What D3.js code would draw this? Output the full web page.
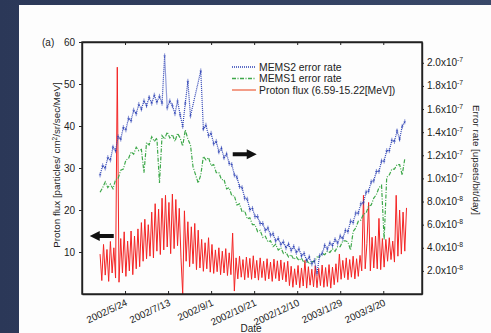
<!DOCTYPE html>
<html>
<head>
<meta charset="utf-8">
<script src="https://cdn.jsdelivr.net/npm/d3@7"></script>
<style>
  body { margin: 0; background: #2e3c5c; }
  svg { display: block; font-family: "Liberation Sans", Arial, sans-serif; }
</style>
</head>
<body>
<svg width="491" height="333"></svg>
<script>
// error rates are in units of 1e-8 upsets/bit/day, one value every 3 days from 2002/4/25
const memsStart = new Date(2002, 3, 25)
const memsStep = 3
const mems2 = [
  10.3, 11.1, 10.9, 11.8, 11.6, 12.7, 12.4, 13.6, 13.4, 14.4,
  14.2, 15.2, 15.0, 15.9, 15.6, 16.4, 16.0, 16.7, 16.3, 17.0,
  16.5, 17.2, 16.6, 17.1, 16.5, 20.6, 16.1, 16.7, 16.3, 15.6,
  16.7, 15.5, 14.5, 16.5, 18.4, 15.4, null, null, null, 19.3,
  14.3, 14.6, 13.7, 13.9, 13.0, 13.2, 12.3, 12.6, 11.8, 12.1,
  11.3, 11.2, 10.3, 10.1, 9.3, 9.2, 8.3, 8.2, 7.3, 7.4,
  6.7, 6.7, 6.1, 6.1, 5.5, 5.7, 5.1, 5.2, 4.6, 4.8,
  4.3, 4.5, 4.0, 4.3, 3.8, 4.1, 3.6, 3.9, 3.3, 3.5,
  2.9, 3.2, 2.6, 2.9, 1.8, 3.3, 3.5, 4.2, 3.9, 4.4,
  4.2, 4.7, 4.4, 5.0, 4.8, 5.5, 5.4, 6.3, 6.2, 7.0,
  7.0, 7.8, 7.9, 8.8, 8.9, 9.7, 9.8, 10.6, 10.6, 11.5,
  11.5, 12.4, 12.4, 13.3, 13.2, 14.1, 13.4, 14.5, 14.9
]
const mems1 = [
  8.8, 9.2, 9.7, 9.2, 9.5, 9.1, 9.9, 10.0, 10.7, 10.8,
  11.6, 11.7, 12.3, 12.1, 12.7, 12.4, 12.5, 10.5, 13.1, 12.9,
  13.6, 13.2, 13.5, 9.6, 13.7, 13.4, 14.0, 13.5, 13.8, 13.2,
  13.9, 13.5, 12.8, 14.2, 13.4, 12.9, 11.0, 10.3, 9.6, 10.3,
  11.9, 11.6, 11.8, 11.1, 11.2, 10.5, 10.5, 9.9, 9.9, 9.1,
  9.2, 8.5, 8.5, 7.7, 7.8, 7.1, 7.2, 6.5, 6.6, 6.0,
  6.0, 5.4, 5.5, 4.9, 5.0, 4.5, 4.6, 4.1, 4.3, 3.8,
  4.0, 3.5, 3.6, 3.2, 3.4, 3.0, 3.2, 2.9, 3.1, 2.7,
  2.9, 2.6, 2.8, 2.8, 3.2, 3.2, 3.5, 3.4, 3.7, 3.6,
  3.9, 3.7, 4.1, 4.1, 4.6, 4.6, 4.5, 3.8, 5.4, 5.7,
  6.3, 6.4, 6.9, 7.0, 7.6, 7.7, 8.3, 8.6, 9.2, 9.4,
  4.7, 10.1, 10.3, 10.8, 10.8, 11.2, 11.2, 10.3, 11.7
]

// proton flux, one value every 2 days from 2002/4/25
const protonStart = new Date(2002, 3, 25)
const protonStep = 2
const proton = [
  9.5, 3.2, 11.8, 4.5, 10.6, 3.0, 12.5, 5.0, 11.0, 3.8,
  54.0,
  2.8, 13.2, 5.0, 14.8, 4.2, 12.6, 5.5, 15.0, 4.6, 13.8, 6.0, 15.5,
  6.5, 17.0, 7.8, 17.8, 8.4, 16.5,
  9.0, 19.5, 8.6, 21.5, 10.2, 20.2, 9.4,
  22.8, 10.5, 23.5, 11.2, 21.8, 9.6, 23.8, 10.8, 22.5, 11.5,
  20.4, 8.6, 0.0, 19.8,
  7.8, 17.2, 6.5, 16.0, 7.2, 16.8, 5.8, 15.2,
  6.2, 13.0, 5.4, 12.2, 6.0, 13.4, 5.2, 11.8,
  4.9, 10.5, 5.3, 11.0, 4.6, 10.2, 5.0, 10.8, 4.4,
  9.8, 4.6, 14.5, 0.7,
  8.6, 3.6, 9.0, 4.0, 8.2, 3.4, 8.8, 3.9, 8.5, 3.5, 9.1,
  3.8, 8.0, 3.3, 8.6, 3.9, 7.8, 3.2, 8.4, 3.6, 7.6,
  3.0, 8.3, 3.7, 7.9, 3.1, 8.1, 3.4, 7.5, 2.9, 7.8,
  2.0, 6.6, 1.6, 6.0, 2.2, 6.8, 1.5, 6.2, 1.9, 8.0,
  1.4, 6.5, 2.1, 5.9, 1.7, 6.7, 1.5, 6.1, 2.0, 6.9,
  1.6, 6.3, 1.8, 7.0, 1.4, 6.4, 2.2, 7.2,
  2.8, 9.5, 3.5, 8.0, 3.9, 8.6, 3.4, 8.2, 4.0, 9.0, 3.6, 8.4, 4.2, 9.2,
  5.5, 23.5, 6.0, 12.0, 21.8, 5.5,
  13.5, 6.2, 13.8, 6.0, 18.0, 5.8, 13.2, 6.4,
  13.0, 7.8, 13.4, 8.2, 12.6, 7.6,
  23.5, 9.0,
  20.0, 9.5, 19.5, 10.2, 20.5
]

const dateTicks = ['2002/5/24', '2002/7/13', '2002/9/1', '2002/10/21', '2002/12/10', '2003/1/29', '2003/3/20']
const leftTicks = [10, 20, 30, 40, 50, 60]
const rightTicks = [2, 4, 6, 8, 10, 12, 14, 16, 18, 20] // x1e-8
const legendLabels = ['MEMS2 error rate', 'MEMS1 error rate', 'Proton flux (6.59-15.22[MeV])']

const svg = d3.select('svg')
const parse = d3.timeParse('%Y/%m/%d')

// slide background
const grad = svg.append('defs').append('linearGradient')
  .attr('id', 'bg').attr('x1', 0).attr('y1', 0).attr('x2', 1).attr('y2', 0)
grad.append('stop').attr('offset', '0%').attr('stop-color', '#2b3858')
grad.append('stop').attr('offset', '100%').attr('stop-color', '#394869')
svg.append('rect').attr('width', 491).attr('height', 333).attr('fill', 'url(#bg)')
svg.append('rect').attr('x', 19).attr('y', 5).attr('width', 472).attr('height', 328).attr('fill', '#fdfdfd')

const x = d3.scaleTime()
  .domain([new Date(2002, 3, 4), new Date(2003, 4, 4)])
  .range([82, 422])
const yL = d3.scaleLinear().domain([0, 60]).range([294, 42])
const yR = d3.scaleLinear().domain([0, 21.8]).range([294, 42])

const ink = '#222'
const blue = '#2a3fb4'
const green = '#3ea84a'

// series
const memsRows = (arr) => arr
  .map((v, i) => ({ date: d3.timeDay.offset(memsStart, i * memsStep), v: v }))
  .filter(d => d.v != null)
const protonRows = proton.map((v, i) => ({ date: d3.timeDay.offset(protonStart, i * protonStep), v: v }))

const lineR = d3.line().x(d => x(d.date)).y(d => yR(d.v))
const lineL = d3.line().x(d => x(d.date)).y(d => yL(d.v))

svg.append('path')
  .attr('d', lineL(protonRows))
  .attr('fill', 'none')
  .attr('stroke', '#f42424')
  .attr('stroke-width', 1)

svg.append('path')
  .attr('d', lineR(memsRows(mems1)))
  .attr('fill', 'none')
  .attr('stroke', green)
  .attr('stroke-width', 1.2)
  .attr('stroke-dasharray', '4,1.5,1,1.5')

svg.append('path')
  .attr('d', lineR(memsRows(mems2)))
  .attr('fill', 'none')
  .attr('stroke', blue)
  .attr('stroke-width', 1.2)
  .attr('stroke-dasharray', '1,1')

// the MEMS2 trace carries small + markers
svg.append('g').selectAll('path')
  .data(memsRows(mems2))
  .join('path')
  .attr('transform', d => `translate(${x(d.date)},${yR(d.v)})`)
  .attr('d', 'M0,-2.5V2.5M-1.2,0H1.2')
  .attr('stroke', blue)
  .attr('stroke-width', 0.7)
  .attr('opacity', 0.8)

// axes + frame
const tickDates = dateTicks.map(parse)

svg.append('g').attr('transform', 'translate(0,294)')
  .call(d3.axisBottom(x).tickValues(tickDates).tickFormat('').tickSizeInner(-3).tickSizeOuter(0))
svg.append('g').attr('transform', 'translate(0,42)')
  .call(d3.axisTop(x).tickValues(tickDates).tickFormat('').tickSizeInner(-3).tickSizeOuter(0))
svg.append('g').attr('transform', 'translate(82,0)')
  .call(d3.axisLeft(yL).tickValues(leftTicks).tickFormat(d3.format('d')).tickSize(3).tickPadding(4).tickSizeOuter(0))
svg.append('g').attr('transform', 'translate(422,0)')
  .call(d3.axisRight(yR).tickValues(rightTicks).tickFormat('').tickSize(2).tickSizeOuter(0))

svg.selectAll('.domain').attr('stroke', ink).attr('stroke-width', 1.4)
svg.selectAll('.tick line').attr('stroke', ink)
svg.selectAll('.tick text').attr('fill', ink).style('font-size', '10px')

svg.append('rect')
  .attr('x', 82).attr('y', 42).attr('width', 340).attr('height', 252)
  .attr('fill', 'none').attr('stroke', ink).attr('stroke-width', 1.4)

// date labels, slanted
svg.append('g').selectAll('text')
  .data(tickDates)
  .join('text')
  .attr('transform', d => `translate(${x(d) + 3},305) rotate(-25)`)
  .attr('text-anchor', 'end')
  .attr('fill', ink)
  .style('font-size', '9.8px')
  .text((d, i) => dateTicks[i])

// right labels: a.bx10^-n
const rl = svg.append('g').selectAll('text')
  .data(rightTicks)
  .join('text')
  .attr('x', 427)
  .attr('y', d => yR(d) + 3.5)
  .attr('fill', ink)
  .style('font-size', '10px')
rl.append('tspan').text(d => (d >= 10 ? d / 10 : d).toFixed(1) + 'x10')
rl.append('tspan').attr('dy', -4).style('font-size', '6.8px').text(d => d >= 10 ? '-7' : '-8')

// axis titles
const yTitle = svg.append('text')
  .attr('transform', 'translate(60,165) rotate(-90)')
  .attr('text-anchor', 'middle').attr('fill', ink).style('font-size', '9.8px')
yTitle.append('tspan').text('Proton flux [particles/ cm')
yTitle.append('tspan').attr('dy', -3.5).style('font-size', '6.5px').text('2')
yTitle.append('tspan').attr('dy', 3.5).text('/sr/sec/MeV]')

svg.append('text')
  .attr('transform', 'translate(473,160) rotate(90)')
  .attr('text-anchor', 'middle').attr('fill', ink).style('font-size', '9.8px')
  .text('Error rate [upsets/bit/day]')
svg.append('text')
  .attr('x', 251).attr('y', 332)
  .attr('text-anchor', 'middle').attr('fill', ink).style('font-size', '10px')
  .text('Date')
svg.append('text')
  .attr('x', 42).attr('y', 46)
  .attr('fill', ink).style('font-size', '10px')
  .text('(a)')

// legend
const legendStyles = [
  { stroke: blue, dash: '1,1' },
  { stroke: green, dash: '4,1.5,1,1.5' },
  { stroke: '#ee6a4a', dash: null }
]
const lg = svg.append('g').selectAll('g')
  .data(legendLabels)
  .join('g')
  .attr('transform', (d, i) => `translate(232,${67 + i * 11.5})`)
lg.append('line')
  .attr('x1', 0).attr('x2', 24)
  .attr('stroke', (d, i) => legendStyles[i].stroke)
  .attr('stroke-width', 1.3)
  .attr('stroke-dasharray', (d, i) => legendStyles[i].dash)
lg.append('text')
  .attr('x', 27).attr('y', 3.8)
  .attr('fill', ink).style('font-size', '10.4px')
  .text(d => d)

// direction arrows (which axis each group of curves belongs to)
const arrows = [
  { date: new Date(2002, 9, 24), value: 12.1, scale: yR, dir: 1 },
  { date: new Date(2002, 3, 13), value: 13.8, scale: yL, dir: -1 }
]
svg.append('g').selectAll('path')
  .data(arrows)
  .join('path')
  .attr('transform', d => `translate(${x(d.date)},${d.scale(d.value)}) scale(${d.dir},1)`)
  .attr('d', 'M0,0 L-10,-5 L-10,-2 L-24,-2 L-24,2 L-10,2 L-10,5 Z')
  .attr('fill', '#111')
</script>
</body>
</html>
